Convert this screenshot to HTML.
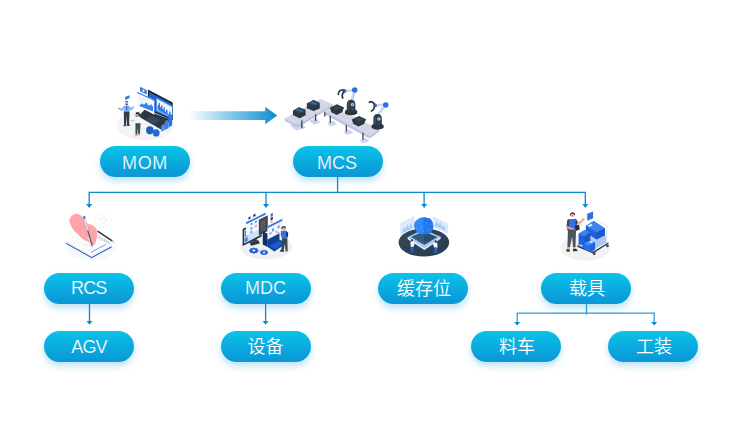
<!DOCTYPE html>
<html lang="zh">
<head>
<meta charset="utf-8">
<title>MOM MCS</title>
<style>
html,body{margin:0;padding:0;background:#fff;}
body{width:742px;height:429px;position:relative;overflow:hidden;font-family:"Liberation Sans","Noto Sans CJK SC",sans-serif;}
.pill{position:absolute;width:90px;height:31px;border-radius:16px;
 background:linear-gradient(180deg,#0ac4e9 0%,#0aabde 50%,#0a96d6 100%);
 box-shadow:0 4px 7px rgba(40,160,220,.30);
 color:#fff;font-size:18px;line-height:34.5px;text-align:center;font-weight:300;white-space:nowrap;}
.pill:not(.cjk){-webkit-text-stroke:0.22px #0aa8dd;}
.pill.cjk{font-size:18px;line-height:33px;font-weight:350;text-indent:2px;}
#lines{position:absolute;left:0;top:0;}
.ico{position:absolute;overflow:visible;}
</style>
</head>
<body>
<svg id="lines" width="742" height="429" viewBox="0 0 742 429">
 <defs>
  <linearGradient id="ag" x1="0" y1="0" x2="1" y2="0">
   <stop offset="0" stop-color="#1a96d3" stop-opacity="0"/>
   <stop offset="0.45" stop-color="#1a96d3" stop-opacity="0.5"/>
   <stop offset="1" stop-color="#0a8dcf" stop-opacity="1"/>
  </linearGradient>
 </defs>
 <polygon points="188,111.2 265.2,111.2 265.2,106.8 277.2,115.6 265.2,124.3 265.2,120.1 188,120.1" fill="url(#ag)"/>
 <g fill="none" stroke="#0a89cb" stroke-width="1.3">
  <path d="M337.6 176 V192.4"/>
  <path d="M89.2 204.5 V192.4 H585.3 V204.5"/>
  <path d="M266 192.4 V204.5"/>
  <path d="M424.1 192.4 V204.5"/>
  <path d="M89.5 303 V322"/>
  <path d="M265.6 303 V322"/>
 </g>
 <g fill="none" stroke="#2f9bd4" stroke-width="1.3">
  <path d="M586.5 303 V314.6"/>
  <path d="M517.2 322.5 V313.1 H654.2 V322.5"/>
 </g>
 <g fill="#0a89cb">
  <polygon points="86.2,204 92.2,204 89.2,208"/>
  <polygon points="263,204 269,204 266,208"/>
  <polygon points="421.1,204 427.1,204 424.1,208"/>
  <polygon points="582.3,204 588.3,204 585.3,208"/>
  <polygon points="86.5,321.1 92.5,321.1 89.5,324.8"/>
  <polygon points="262.6,321.1 268.6,321.1 265.6,324.8"/>
  <polygon points="514.2,322 520.2,322 517.2,325.6"/>
  <polygon points="651.2,322 657.2,322 654.2,325.6"/>
 </g>
</svg>

<!--ICONS-START-->
<!-- ICON MOM -->
<svg class="ico" style="left:110px;top:80px" width="70" height="65" viewBox="0 0 462 429">
 <ellipse cx="232" cy="300" rx="190" ry="98" fill="#f4f4f5"/>
 <polygon points="194,232 228,196 405,262 337,326 194,244" fill="#2b3744"/>
 <polygon points="232,262 266,236 332,260 296,292" fill="#3a4856"/>
 <polygon points="250,62 414,148 414,266 250,198" fill="#1c2836"/>
 <polygon points="258,80 406,158 406,252 258,190" fill="#2463cf"/>
 <polygon points="304,114 414,174 414,258 304,206" fill="#3b82ea"/>
 <polygon points="309,124 409,178 409,250 309,200" fill="#eef4fd"/>
 <polygon points="314,198 314,170 322,162 322,150 330,154 330,178 338,182 338,164 346,168 346,190 354,194 354,178 362,182 362,206 370,210 370,194 380,200 380,222 390,226 390,206 400,212 400,244" fill="#2f7be8"/>
 <polygon points="180,78 292,130 292,230 180,166" fill="#f7f9fd"/>
 <polygon points="180,78 292,130 292,138 180,86" fill="#3b82ea"/>
 <g stroke="#d5dbe6" stroke-width="3"><path d="M192 108 L250 136 M192 120 L236 141 M192 132 L244 157"/></g>
 <polygon points="194,168 210,154 224,164 240,148 256,170 272,160 284,176 284,208 194,172" fill="#3b82ea"/>
 <polygon points="198,45 242,66 242,96 198,75" fill="#2f7be8"/>
 <circle cx="221" cy="71" r="8" fill="#dbe8fb"/>
 <polygon points="338,300 362,288 362,330 338,342" fill="#4a8df0"/>
 <polygon points="362,272 386,260 386,318 362,330" fill="#3b82ea"/>
 <polygon points="386,236 410,226 410,300 386,314" fill="#2f74df"/>
 <ellipse cx="263" cy="332" rx="25" ry="27" fill="#1e5fc4"/>
 <ellipse cx="305" cy="349" rx="22" ry="24" fill="#2468d2"/>
 <!-- man -->
 <polygon points="99,112 128,100 130,118 112,127 106,134 106,129 101,131" fill="#2f7be8"/>
 <circle cx="110" cy="151" r="9" fill="#e8a58e"/>
 <path d="M100 148 q10 -13 20 0 l0 -5 q-10 -11 -20 0z" fill="#26323c"/>
 <path d="M102 155 q8 11 16 0 l0 7 q-8 7 -16 0z" fill="#26323c"/>
 <path d="M94 178 L77 198 L60 188 M126 178 L138 195 L152 181" fill="none" stroke="#7ab0f5" stroke-width="11" stroke-linecap="round" stroke-linejoin="round"/>
 <polygon points="92,170 128,170 130,212 90,212" fill="#7ab0f5"/>
 <polygon points="106,170 114,170 113,200 108,200" fill="#2a62c8"/>
 <polygon points="91,210 129,210 126,296 113,298 111,236 106,300 93,300" fill="#323d48"/>
 <polygon points="90,298 108,298 108,306 88,306" fill="#26323c"/><polygon points="112,296 128,294 134,302 114,304" fill="#26323c"/>
 <circle cx="58" cy="187" r="6" fill="#f3a0a0"/><circle cx="154" cy="179" r="6" fill="#f3a0a0"/>
 <!-- woman -->
 <path d="M170 216 q12 -10 26 2 l4 26 l-30 -2z" fill="#26323c"/>
 <circle cx="180" cy="232" r="8" fill="#e8a58e"/>
 <path d="M170 262 L140 270" stroke="#e8a58e" stroke-width="7" stroke-linecap="round"/>
 <polygon points="166,244 196,240 206,260 202,288 168,288 160,266" fill="#f3f4f6"/>
 <polygon points="168,286 202,286 197,358 186,360 185,312 179,362 168,360" fill="#35505c"/>
 <polygon points="160,364 184,360 186,370 162,374" fill="#f2a8a8"/><polygon points="186,358 200,356 202,364 188,366" fill="#f2a8a8"/>
</svg>

<!-- ICON MCS -->
<svg class="ico" style="left:280px;top:80px" width="120" height="65" viewBox="0 0 742 402">
 <g fill="#c9d3f3">
  <polygon points="62,282 120,254 160,296 100,312"/>
  <polygon points="182,252 222,236 250,262 208,276"/>
  <polygon points="292,266 330,252 352,274 312,288"/>
  <polygon points="392,322 428,306 452,326 412,340"/>
  <polygon points="490,372 530,358 552,378 512,392"/>
 </g>
 <!-- conveyor 1 -->
 <polygon points="28,238 248,118 326,150 108,278" fill="#d5d7e9"/>
 <polygon points="28,238 108,278 108,292 28,252" fill="#b9c0e6"/>
 <polygon points="108,278 326,150 326,166 108,294" fill="#b4b9d2"/>
 <!-- conveyor 2 -->
 <polygon points="272,194 334,162 612,306 556,346" fill="#d5d7e9"/>
 <polygon points="272,194 556,346 556,362 272,210" fill="#b4b9d2"/>
 <polygon points="556,346 612,306 612,320 556,360" fill="#b9c0e6"/>
 <g stroke="#aab2dc" stroke-width="2.5">
  <path d="M70 216 L150 256 M112 192 L192 232 M156 168 L236 208 M200 144 L280 184 M350 172 L296 206 M420 208 L366 244 M490 244 L436 280 M556 278 L502 316"/>
 </g>
 <g stroke="#f4f5fb" stroke-width="5" stroke-dasharray="10 12" opacity=".9">
  <path d="M116 283 L322 161 M276 205 L552 353"/>
 </g>
 <g stroke="#39434e" stroke-width="8">
  <path d="M135 250 V298 M220 212 V254 M311 222 V266 M410 276 V318 M513 326 V370 M277 200 V225"/>
 </g>
 <!-- boxes -->
 <polygon points="80,190 118,168 158,186 158,218 122,236 80,216" fill="#2c383f"/>
 <polygon points="80,190 118,168 158,186 122,206" fill="#3a474f"/>
 <polygon points="95,181 104,176 145,194 136,199" fill="#2f6fe0"/>
 <polygon points="166,146 208,124 246,142 246,176 208,192 166,174" fill="#2c383f"/>
 <polygon points="166,146 208,124 246,142 208,160" fill="#3a474f"/>
 <polygon points="183,137 192,132 232,149 223,154" fill="#2f6fe0"/>
 <polygon points="308,172 352,150 396,170 384,200 350,216 318,200" fill="#2c383f"/>
 <polygon points="326,172 352,160 380,172 352,186" fill="#3d4955"/>
 <polygon points="444,244 488,222 532,242 520,272 486,288 454,272" fill="#2c383f"/>
 <polygon points="462,244 488,232 516,244 488,258" fill="#3d4955"/>
 <!-- robot 1 -->
 <polygon points="432,134 452,128 474,64 456,58" fill="#c9d3f3"/>
 <polygon points="396,62 458,56 460,70 398,76" fill="#c9d3f3"/>
 <g id="rb"><path d="M413 152 q0 -30 26 -30 q27 0 27 30 v42 h-53z" fill="#323e48"/><path d="M402 194 q0 -10 12 -10 h52 q11 0 11 10 v14 q-38 20 -75 0z" fill="#2b363f"/><path d="M420 150 q0 -20 14 -24 q-8 8 -8 24 v34 h-6z" fill="#465360"/></g>
 <circle cx="448" cy="152" r="10" fill="#e3e6f6"/><circle cx="448" cy="152" r="5" fill="#2f6fe0"/><circle cx="448" cy="184" r="4" fill="#2f6fe0"/>
 <circle cx="462" cy="62" r="17" fill="#2f6fe0"/>
 <circle cx="398" cy="68" r="12" fill="#2f6fe0"/>
 <path d="M394 62 Q360 58 361 90 M394 74 Q378 92 388 112" fill="none" stroke="#27323e" stroke-width="10" stroke-linecap="round"/>
 <!-- robot 2 -->
 <polygon points="596,216 616,212 662,158 644,150" fill="#c9d3f3"/>
 <polygon points="586,150 650,146 652,160 588,164" fill="#c9d3f3"/>
 <use href="#rb" x="164" y="89"/>
 <circle cx="612" cy="241" r="10" fill="#e3e6f6"/><circle cx="612" cy="241" r="5" fill="#2f6fe0"/><circle cx="612" cy="273" r="4" fill="#2f6fe0"/>
 <circle cx="654" cy="154" r="17" fill="#2f6fe0"/>
 <circle cx="588" cy="157" r="12" fill="#2f6fe0"/>
 <path d="M584 148 Q566 126 552 138 M584 166 Q582 184 566 192" fill="none" stroke="#27323e" stroke-width="10" stroke-linecap="round"/>
</svg>
<!-- ICON RCS -->
<svg class="ico" style="left:55px;top:205px" width="70" height="60" viewBox="0 0 500 429">
 <ellipse cx="255" cy="300" rx="185" ry="98" fill="#f8f8f9"/>
 <!-- speech bubble -->
 <ellipse cx="345" cy="110" rx="60" ry="44" fill="#fff" stroke="#e6e6e9" stroke-width="2.5"/>
 <polygon points="318,146 332,152 314,166" fill="#fff" stroke="#e6e6e9" stroke-width="2.5"/>
 <g fill="none" stroke="#e1e2e6" stroke-width="3"><circle cx="325" cy="100" r="9"/><circle cx="352" cy="90" r="8"/><circle cx="370" cy="112" r="9"/><circle cx="342" cy="126" r="8"/><path d="M334 100 L344 92 M360 94 L366 104 M362 116 L350 124"/></g>
 <!-- notebook -->
 <polygon points="78,277 262,380 404,303 404,294 262,370 78,268" fill="#2a5fb8"/>
 <polygon points="80,260 262,360 402,284 402,295 262,371 80,269" fill="#eceef3"/>
 <polygon points="80,260 262,360 402,284 220,188" fill="#fdfdfe"/>
 <g stroke="#e9eaef" stroke-width="2"><path d="M106 256 L236 188 M126 268 L256 200 M146 280 L276 212 M166 292 L296 224 M186 304 L316 236 M206 316 L336 248 M226 328 L356 260"/></g>
 <path d="M256 340 L362 282" stroke="#2f6fe0" stroke-width="5"/>
 <path d="M206 296 l28 -14 l22 12" stroke="#c9cbd2" stroke-width="3" fill="none"/>
 <!-- spiral -->
 <g stroke="#70757d" stroke-width="3" fill="none"><path d="M304 218 v16 q4 8 8 0 M320 226 v16 q4 8 8 0 M336 234 v16 q4 8 8 0 M352 242 v16 q4 8 8 0 M368 250 v16 q4 8 8 0 M384 258 v16 q4 8 8 0"/></g>
 <!-- pencil -->
 <polygon points="301,192 307,183 412,252 406,261" fill="#353a42"/>
 <polygon points="406,261 412,252 428,270" fill="#f09aa0"/>
 <!-- hand -->
 <path d="M136 66 C150 60 168 62 180 72 C196 84 208 100 219 118 C224 128 230 133 238 135 C250 138 258 140 267 144 C280 150 288 158 293 166 C300 176 302 186 301 198 C300 212 299 224 297 236 C295 250 292 262 288 274 C284 284 278 288 271 287 C264 286 258 280 253 274 C244 268 234 262 223 256 C210 252 198 244 188 234 C178 224 168 214 156 204 C144 194 134 182 126 170 C118 154 110 142 106 130 C102 118 102 106 106 96 C112 82 124 72 136 66z" fill="#ffa4a9"/>
 <path d="M236 236 q12 8 16 24" stroke="#fff" stroke-width="9" fill="none" stroke-linecap="round"/>
 <!-- pen -->
 <polygon points="204,92 215,89 268,284 258,288" fill="#f8f9fb" stroke="#6a727c" stroke-width="2"/>
 <polygon points="230,180 237,178 267,282 260,285" fill="#3f4a56"/>
 <ellipse cx="209" cy="87" rx="8" ry="11" fill="#2f6fe0"/>
 <polygon points="257,284 269,281 266,304" fill="#2f6fe0"/>
</svg>

<!-- ICON MDC -->
<svg class="ico" style="left:230px;top:205px" width="70" height="60" viewBox="0 0 500 429">
 <ellipse cx="258" cy="298" rx="186" ry="92" fill="#f0f0f1"/>
 <!-- monitor -->
 <polygon points="140,268 200,250 214,274 150,292" fill="#2b3640"/>
 <polygon points="160,250 190,240 192,262 164,270" fill="#3a4650"/>
 <polygon points="90,172 226,104 226,226 90,294" fill="#27323c"/>
 <polygon points="102,178 220,118 220,214 102,276" fill="#cfe0fa"/>
 <polygon points="104,182 128,170 128,262 104,274" fill="#9cc1f7"/><g fill="#3b7de6"><polygon points="107,188 125,179 125,193 107,202"/><polygon points="107,210 125,201 125,215 107,224"/><polygon points="107,240 125,231 125,255 107,264"/></g>
 <!-- floating top panel -->
 <polygon points="114,124 256,54 256,150 114,222" fill="#f3f7fe"/>
 <polygon points="114,124 256,54 256,68 114,138" fill="#2f74e6"/>
 <g fill="#5c95ee"><polygon points="146,132 160,125 160,139 146,146"/><polygon points="178,116 192,109 192,123 178,130"/><polygon points="146,162 160,155 160,169 146,176"/><polygon points="146,192 160,185 160,199 146,206"/></g>
 <g fill="#ef8f86"><polygon points="178,146 192,139 192,153 178,160"/><polygon points="146,182 156,177 156,187 146,192"/></g>
 <polygon points="126,84 152,72 152,100 126,112" fill="#eef3fc"/><polygon points="132,88 146,82 146,98 132,104" fill="#2f3b48"/>
 <polygon points="160,68 188,54 188,82 160,96" fill="#eef3fc"/><polygon points="166,70 182,62 182,78 166,86" fill="#2f3b48"/>
 <!-- dark code panel -->
 <polygon points="206,106 270,74 270,186 206,218" fill="#3a4652"/>
 <g stroke="#e8776c" stroke-width="4"><path d="M220 124 L256 106 M220 140 L256 122 M220 172 L250 157"/></g>
 <g stroke="#8b97a3" stroke-width="4"><path d="M220 156 L256 138 M220 188 L256 170"/></g>
 <!-- small items -->
 <polygon points="290,64 306,56 306,78 290,86" fill="#2f74e6"/>
 <polygon points="290,92 306,84 306,104 290,112" fill="#2f3b48"/>
 <polygon points="290,118 304,111 304,126 290,133" fill="#f1a29b"/>
 <!-- laptop -->
 <polygon points="234,188 269,205 269,300 234,282" fill="#0f2f6c"/>
 <polygon points="269,205 269,300 317,332 404,273 352,246 352,208" fill="#1144a0"/>
 <polygon points="269,250 352,210 352,246 269,290" fill="#0f3f96"/>
 <polygon points="284,292 346,260 386,276 322,314" fill="#1a5ccc"/>
 <!-- right panel -->
 <polygon points="268,152 374,98 374,192 268,246" fill="#f1f6fe"/>
 <polygon points="268,152 374,98 374,112 268,166" fill="#2f74e6"/>
 <g fill="#5c95ee"><polygon points="300,172 314,165 314,185 300,192"/><polygon points="340,150 354,143 354,163 340,170"/><polygon points="282,200 296,193 296,205 282,212"/></g>
 <!-- man -->
 <path d="M366 160 q16 -18 32 -4 l0 14 l-30 4z" fill="#27323c"/>
 <circle cx="382" cy="170" r="11" fill="#e9a48f"/>
 <polygon points="364,186 400,182 414,200 408,240 372,242 364,218" fill="#2f74e6"/>
 <polygon points="400,184 416,200 414,232 404,226" fill="#27323c"/>
 <polygon points="326,182 366,204 364,216 322,192" fill="#e9a48f"/>
 <polygon points="372,238 410,238 412,330 398,334 392,272 384,330 366,326" fill="#3a4650"/>
 <polygon points="358,322 384,326 384,336 356,332" fill="#27323c"/>
 <!-- gears -->
 <g fill="#1f63dc">
  <ellipse cx="170" cy="326" rx="30" ry="19"/>
  <ellipse cx="243" cy="339" rx="25" ry="16"/>
 </g>
 <g stroke="#1f63dc" stroke-width="9" stroke-linecap="butt">
  <path d="M136 326 H204 M170 303 V349 M146 312 L194 340 M146 340 L194 312"/>
  <path d="M214 339 H272 M243 320 V358 M222 327 L264 351 M222 351 L264 327"/>
 </g>
 <ellipse cx="170" cy="326" rx="11" ry="7" fill="#dfe9fb"/>
 <ellipse cx="243" cy="339" rx="9" ry="6" fill="#dfe9fb"/>
</svg>

<!-- ICON BUFFER -->
<svg class="ico" style="left:390px;top:205px" width="70" height="60" viewBox="0 0 500 429">
 <defs><linearGradient id="dk" x1="0" y1="0" x2="1" y2="1"><stop offset="0" stop-color="#34495d"/><stop offset="1" stop-color="#293c4e"/></linearGradient></defs>
 <ellipse cx="242" cy="268" rx="181" ry="101" fill="url(#dk)"/>
 <!-- panels -->
 <polygon points="76,132 172,84 172,166 76,212" fill="#dbe9fc" stroke="#b7d3f8" stroke-width="3" opacity=".92"/>
 <polygon points="88,192 100,152 112,172 124,136 136,162 148,130 160,152 160,166 88,202" fill="#9fc3f5" opacity=".8"/>
 <polygon points="310,84 412,134 412,202 310,154" fill="#dbe9fc" stroke="#b7d3f8" stroke-width="3" opacity=".92"/>
 <polygon points="322,140 334,112 346,140 358,120 372,156 386,146 400,186 322,150" fill="#9fc3f5" opacity=".8"/>
 <!-- platform -->
 <polygon points="126,230 240,176 362,228 362,242 246,322 126,244" fill="#dfeafb"/>
 <polygon points="126,230 240,176 362,228 246,310" fill="#a4c8f7"/>
 <polygon points="152,229 240,190 338,228 246,284" fill="#2d4d6e"/>
 <polygon points="152,229 240,190 246,284" fill="#375c82"/>
 <!-- brain -->
 <path d="M176 166 C166 140 176 112 200 102 C214 88 240 84 258 92 C284 90 306 112 306 138 C314 160 306 186 288 196 C276 210 256 212 240 208 C216 212 190 200 176 166z" fill="#2f88f4"/>
 <path d="M240 88 C248 88 254 90 258 92 C284 90 306 112 306 138 C314 160 306 186 288 196 C276 210 256 212 240 208z" fill="#2278ea"/>
 <g fill="#9cc9fc" opacity=".75"><circle cx="206" cy="130" r="4"/><circle cx="222" cy="160" r="4"/><circle cx="258" cy="128" r="4"/><circle cx="272" cy="168" r="4"/><circle cx="236" cy="184" r="4"/><circle cx="200" cy="172" r="3"/><circle cx="284" cy="140" r="3"/><circle cx="232" cy="114" r="3"/><circle cx="214" cy="190" r="3"/><circle cx="262" cy="192" r="3"/><circle cx="190" cy="150" r="3"/><circle cx="250" cy="150" r="3"/><circle cx="290" cy="176" r="3"/><circle cx="218" cy="104" r="3"/><circle cx="270" cy="106" r="3"/></g>
 <!-- persons -->
 <circle cx="156" cy="252" r="8" fill="#27323c"/>
 <polygon points="146,262 168,262 176,276 168,300 148,300" fill="#f4f6fa"/>
 <polygon points="148,298 168,298 166,340 158,340 156,316 152,340 146,338" fill="#2a66d0"/>
 <circle cx="326" cy="260" r="8" fill="#27323c"/>
 <polygon points="316,270 338,270 340,306 318,306 306,282" fill="#f4f6fa"/>
 <polygon points="318,304 340,304 336,346 328,346 328,322 322,346 316,344" fill="#2a66d0"/>
</svg>

<!-- ICON CARRIER -->
<svg class="ico" style="left:550px;top:205px" width="70" height="60" viewBox="0 0 500 429">
 <ellipse cx="252" cy="306" rx="178" ry="92" fill="#f2f2f3"/>
 <!-- cart handle -->
 <path d="M336 112 L404 146 V278" fill="none" stroke="#d9dbe0" stroke-width="5"/>
 <!-- cart base -->
 <polygon points="194,298 308,346 418,276 418,266 308,334 194,288" fill="#27323c"/>
 <circle cx="316" cy="348" r="10" fill="#27323c"/><circle cx="316" cy="348" r="4" fill="#8a929b"/>
 <circle cx="410" cy="292" r="10" fill="#27323c"/><circle cx="410" cy="292" r="4" fill="#8a929b"/>
 <!-- light box -->
 <polygon points="290,232 400,216 400,270 322,312 290,300" fill="#a8c8f6"/>
 <polygon points="290,232 372,204 400,216 322,250" fill="#c4dafa"/>
 <!-- top box -->
 <polygon points="256,150 312,114 392,166 392,216 330,246 256,200" fill="#1f63dc"/>
 <polygon points="256,150 312,114 392,166 334,196" fill="#3c82f0"/>
 <polygon points="334,196 392,166 392,216 330,246" fill="#1a56c6"/>
 <polygon points="270,146 296,134 304,146 280,158" fill="#e8eefb"/>
 <!-- left box -->
 <polygon points="204,206 248,178 288,196 288,290 248,312 204,288" fill="#1f63dc"/>
 <polygon points="204,206 248,178 288,196 244,224" fill="#3c82f0"/>
 <polygon points="244,224 288,196 288,290 248,312" fill="#1a56c6"/>
 <!-- small box -->
 <polygon points="244,272 290,252 322,270 322,318 290,338 244,316" fill="#2a6fe4"/>
 <polygon points="244,272 290,252 322,270 278,292" fill="#4a8df2"/>
 <polygon points="278,292 322,270 322,318 290,338" fill="#1f63dc"/>
 <polygon points="280,262 300,254 308,264 288,272" fill="#e8eefb"/>
 <polygon points="212,280 232,288 232,298 212,290" fill="#e8eefb"/>
 <!-- speech bubble -->
 <polygon points="266,62 308,46 308,94 284,104 276,114 276,106 266,110" fill="#2a6fe4"/>
 <!-- man -->
 <path d="M142 64 q14 -20 34 -6 l2 14 l-34 6z" fill="#27323c"/>
 <circle cx="160" cy="74" r="13" fill="#e9a48f"/>
 <polygon points="134,102 186,98 196,124 186,176 132,180 126,140" fill="#2f74e6"/>
 <polygon points="124,106 138,102 136,176 126,186 118,150" fill="#3a4650"/>
 <polygon points="186,104 200,124 190,142 180,132" fill="#3a4650"/><polygon points="196,128 232,100 242,110 204,146" fill="#eeb09c"/>
 <circle cx="238" cy="102" r="9" fill="#eeb09c"/>
 <polygon points="120,150 170,168 184,180 176,186 118,164" fill="#e9a48f"/>
 <polygon points="176,146 208,142 212,176 184,186" fill="#27323c"/>
 <polygon points="128,178 186,174 182,300 164,302 158,226 142,304 124,302" fill="#4a5560"/>
 <polygon points="122,300 142,302 140,318 122,316" fill="#e9a48f"/>
 <polygon points="164,300 182,300 182,314 166,314" fill="#e9a48f"/>
 <polygon points="116,316 142,318 140,334 118,332" fill="#27323c"/>
 <polygon points="162,314 186,312 200,328 168,332" fill="#27323c"/>
</svg>
<!--ICONS-END-->
<div class="pill" style="left:100px;top:146px;letter-spacing:.6px;text-indent:0px;">MOM</div>
<div class="pill" style="left:293px;top:146px;text-indent:-2px;line-height:34px;">MCS</div>
<div class="pill" style="left:44px;top:273px;letter-spacing:-.8px;line-height:31px;text-indent:-.5px">RCS</div>
<div class="pill" style="left:221px;top:273px;line-height:31px;text-indent:-1px;">MDC</div>
<div class="pill cjk" style="left:378px;top:273px;">缓存位</div>
<div class="pill cjk" style="left:541px;top:273px;">载具</div>
<div class="pill" style="left:44px;top:331px;letter-spacing:-.8px;line-height:33px;">AGV</div>
<div class="pill cjk" style="left:221px;top:331px;text-indent:-1px;">设备</div>
<div class="pill cjk" style="left:471px;top:331px;">料车</div>
<div class="pill cjk" style="left:608px;top:331px;">工装</div>
</body>
</html>
